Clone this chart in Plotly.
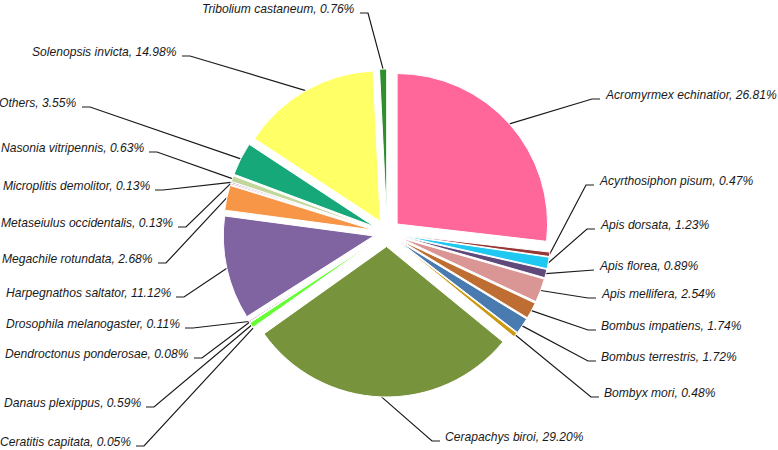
import math
import plotly.graph_objects as go

# slice data, clockwise from 12 o'clock
species = [
    "Acromyrmex echinatior", "Acyrthosiphon pisum", "Apis dorsata", "Apis florea",
    "Apis mellifera", "Bombus impatiens", "Bombus terrestris", "Bombyx mori",
    "Cerapachys biroi", "Ceratitis capitata", "Danaus plexippus",
    "Dendroctonus ponderosae", "Drosophila melanogaster", "Harpegnathos saltator",
    "Megachile rotundata", "Metaseiulus occidentalis", "Microplitis demolitor",
    "Nasonia vitripennis", "Others", "Solenopsis invicta", "Tribolium castaneum",
]
shares = [26.81, 0.47, 1.23, 0.89, 2.54, 1.74, 1.72, 0.48, 29.20, 0.05, 0.59,
          0.08, 0.11, 11.12, 2.68, 0.13, 0.13, 0.63, 3.55, 14.98, 0.76]

colors = ["#FF6699", "#953735", "#1EC8F0", "#604A7B", "#D99694", "#BE6E33",
          "#4A7BB0", "#CC9A10", "#77933C", "#4BACC6", "#66FF33", "#B7DEE8",
          "#8E2A6A", "#8064A2", "#F79646", "#F0508C", "#7F6F9F", "#C3D69B",
          "#17A87A", "#FFFF66", "#2F8F2F"]

# label placement in pixels: side, text x (left edge for 'r', right edge for 'l'), text y
label_side = ["r", "r", "r", "r", "r", "r", "r", "r", "r", "l", "l",
              "l", "l", "l", "l", "l", "l", "l", "l", "l", "l"]
label_x = [603, 597, 598, 597, 599, 599, 599, 602, 443, 133, 143,
           191, 182, 173, 155, 175, 152, 146, 79, 179, 357]
label_y = [95, 181, 225, 266, 294, 326, 357, 393, 437, 442, 403,
           354, 324, 293, 259, 223, 186, 148, 103, 52, 9]

W, H = 778, 450
CX, CY = 387, 233      # pie centre (px)
R_OUT = 164            # outer reach of pulled slices (px)
PULL = 0.09

total = sum(shares)
mids = []
acc = 0.0
for v in shares:
    mids.append((acc + v / 2) / total * 2 * math.pi)
    acc += v

fig = go.Figure()

fig.add_trace(go.Pie(
    labels=species,
    values=shares,
    sort=False,
    direction="clockwise",
    rotation=0,
    pull=PULL,
    marker=dict(colors=colors, line=dict(color="white", width=1)),
    textinfo="none",
    hoverinfo="label+percent",
    showlegend=False,
    domain=dict(x=[(CX - R_OUT) / W, (CX + R_OUT) / W],
                y=[1 - (CY + R_OUT) / H, 1 - (CY - R_OUT) / H]),
))

# leader lines from slice edge to label
lx, ly = [], []
for ang, side, tx, ty in zip(mids, label_side, label_x, label_y):
    sx = CX + R_OUT * math.sin(ang)
    sy = CY - R_OUT * math.cos(ang)
    if side == "r":
        e0, e1 = tx - 11, tx - 3
    else:
        e0, e1 = tx + 11, tx + 3
    lx += [sx, e0, e1, None]
    ly += [sy, ty + 4, ty + 4, None]

fig.add_trace(go.Scatter(
    x=lx, y=ly, mode="lines",
    line=dict(color="#1a1a1a", width=1.2),
    hoverinfo="skip", showlegend=False,
))

for name, v, side, tx, ty in zip(species, shares, label_side, label_x, label_y):
    fig.add_annotation(
        x=tx, y=ty, xref="x", yref="y",
        text=f"{name}, {v:.2f}%",
        showarrow=False,
        xanchor="left" if side == "r" else "right",
        yanchor="middle",
        font=dict(family="Liberation Sans, Arial", size=12.1, color="#1a1a1a", style="italic"),
    )

fig.update_xaxes(range=[0, W], visible=False, fixedrange=True)
fig.update_yaxes(range=[H, 0], visible=False, fixedrange=True)
fig.update_layout(
    width=W, height=H,
    margin=dict(l=0, r=0, t=0, b=0),
    paper_bgcolor="white",
    plot_bgcolor="white",
    showlegend=False,
)

# drop the default page margin so the figure sits at the window's corner
fig.write_html("out.html", config={"displayModeBar": False},
               post_script="document.body.style.margin='0';")
